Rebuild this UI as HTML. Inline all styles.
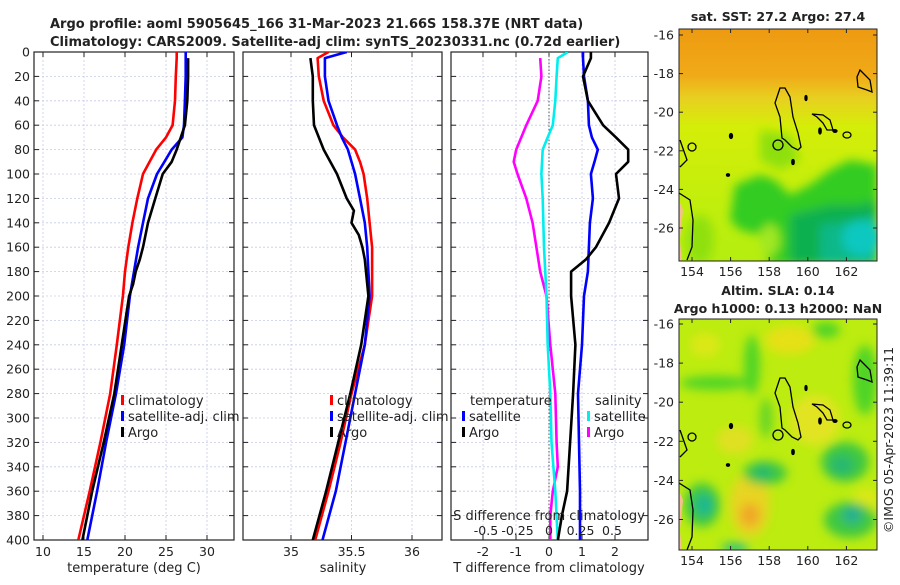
<!DOCTYPE html>
<html><head><meta charset="utf-8"><style>
body{margin:0;background:#fff;width:900px;height:580px;overflow:hidden}
svg text{font-family:"DejaVu Sans","Liberation Sans",sans-serif;fill:#222}
</style></head><body>
<svg id="chart" width="900" height="580" viewBox="0 0 900 580" xmlns="http://www.w3.org/2000/svg">
<defs>
<filter id="blur4" x="-20%" y="-20%" width="140%" height="140%"><feGaussianBlur stdDeviation="5"/></filter>
<clipPath id="clipM1"><rect x="679" y="29" width="198" height="232"/></clipPath>
<clipPath id="clipM2"><rect x="679" y="319" width="198" height="231"/></clipPath>
<clipPath id="clipP1"><rect x="34" y="52" width="200" height="488"/></clipPath>
<clipPath id="clipP2"><rect x="243" y="52" width="199" height="488"/></clipPath>
<clipPath id="clipP3"><rect x="451" y="52" width="197" height="488"/></clipPath>
<linearGradient id="sstGrad" x1="0" y1="0" x2="0" y2="1">
<stop offset="0" stop-color="#ee9a10"/><stop offset="0.2" stop-color="#f0aa18"/><stop offset="0.3" stop-color="#e8d020"/><stop offset="0.42" stop-color="#d4ee08"/><stop offset="1" stop-color="#b4ee10"/>
</linearGradient>
<g id="coast" fill="none" stroke="#000" stroke-width="1.3">
<path d="M780,88 L785,88 L790,97 L793,117 L798,133 L801,147 L798,150 L792,147 L785,140 L782,138 L780,117 L775,103 Z"/>
<circle cx="778" cy="145" r="5"/>
<path d="M812,114 L823,115 L830,120 L833,130 L827,130 L823,123 L817,117 Z"/>
<ellipse cx="847" cy="135" rx="4" ry="3"/>
<path d="M860,70 L870,80 L872,92 L867,90 L858,87 L857,77 Z"/>
<path d="M680,140 L687,160 L680,167"/>
<ellipse cx="692" cy="147" rx="4" ry="4"/>
<path d="M679,193 L690,200 L693,220 L692,247 L687,260"/>
<path d="M679,200 L683,210 L680,240 L682,262 L679,262 Z" fill="#f4c090" stroke="none"/>
<ellipse cx="731" cy="136" rx="1.5" ry="2.5" fill="#000"/><ellipse cx="728" cy="175" rx="1.5" ry="1.2" fill="#000"/>
<ellipse cx="793" cy="162" rx="1.2" ry="2.5" fill="#000"/><ellipse cx="806" cy="98" rx="1" ry="2.5" fill="#000"/>
<ellipse cx="820" cy="131" rx="1.2" ry="3" fill="#000"/><ellipse cx="835" cy="131" rx="2" ry="1.3" fill="#000"/>
</g>
</defs>

<text x="50" y="28" font-size="13" font-weight="bold">Argo profile: aoml 5905645_166 31-Mar-2023 21.66S 158.37E (NRT data)</text>
<text x="50" y="46" font-size="13" font-weight="bold">Climatology: CARS2009. Satellite-adj clim: synTS_20230331.nc (0.72d earlier)</text>

<g id="panels"></g>

<!-- Map 1 -->
<g>
<text x="778" y="21" font-size="12.5" font-weight="bold" text-anchor="middle">sat. SST: 27.2 Argo: 27.4</text>
<g clip-path="url(#clipM1)">
<rect x="679" y="29" width="198" height="232" fill="url(#sstGrad)"/>
<g filter="url(#blur4)">
<path d="M735,185 L760,175 L775,180 L790,195 L810,185 L830,170 L850,160 L877,165 L877,265 L770,265 L760,235 L740,230 L730,220 Z" fill="#30cc20"/>
<path d="M760,130 L790,135 L800,160 L780,170 L760,160 Z" fill="#8ee010"/>
<path d="M790,215 L830,205 L860,205 L877,200 L877,265 L790,265 Z" fill="#10b050"/>
<path d="M820,225 L860,220 L877,215 L877,265 L820,265 Z" fill="#10b888"/>
<ellipse cx="862" cy="238" rx="20" ry="18" fill="#10c8c0"/>
<ellipse cx="770" cy="240" rx="10" ry="16" fill="#a0e820"/>
<ellipse cx="700" cy="240" rx="14" ry="25" fill="#90e010"/>
</g>
<use href="#coast"/>
</g>
<rect x="679" y="29" width="198" height="232" fill="none" stroke="#222" stroke-width="1"/>
<g id="m1ticks"></g>
</g>

<!-- Map 2 -->
<g>
<text x="778" y="295" font-size="12.5" font-weight="bold" text-anchor="middle">Altim. SLA: 0.14</text>
<text x="778" y="313" font-size="12.5" font-weight="bold" text-anchor="middle">Argo h1000: 0.13 h2000: NaN</text>
<g clip-path="url(#clipM2)">
<rect x="679" y="319" width="198" height="231" fill="#bcec10"/>
<g filter="url(#blur4)">
<ellipse cx="705" cy="345" rx="15" ry="12" fill="#dce818"/>
<ellipse cx="790" cy="340" rx="25" ry="14" fill="#e6e018"/>
<ellipse cx="815" cy="420" rx="25" ry="25" fill="#e2e420"/>
<ellipse cx="735" cy="440" rx="18" ry="14" fill="#e0e020"/>
<ellipse cx="750" cy="505" rx="20" ry="32" fill="#e8d420"/>
<ellipse cx="750" cy="515" rx="10" ry="12" fill="#f0a828"/>
<ellipse cx="866" cy="500" rx="12" ry="12" fill="#dce818"/>
<ellipse cx="752" cy="365" rx="8" ry="30" fill="#50d428"/>
<ellipse cx="715" cy="383" rx="35" ry="7" fill="#50d428"/>
<ellipse cx="826" cy="330" rx="14" ry="8" fill="#50d428"/>
<ellipse cx="865" cy="380" rx="12" ry="35" fill="#50d428"/>
<ellipse cx="845" cy="462" rx="24" ry="20" fill="#40c840"/>
<ellipse cx="842" cy="465" rx="12" ry="10" fill="#28b870"/>
<ellipse cx="765" cy="473" rx="22" ry="12" fill="#40c840"/>
<ellipse cx="763" cy="472" rx="9" ry="7" fill="#28b870"/>
<ellipse cx="702" cy="505" rx="18" ry="22" fill="#40c840"/>
<ellipse cx="704" cy="505" rx="9" ry="11" fill="#18b890"/>
<ellipse cx="850" cy="520" rx="26" ry="18" fill="#40c840"/>
<ellipse cx="852" cy="515" rx="10" ry="9" fill="#28b090"/>
<ellipse cx="735" cy="548" rx="14" ry="5" fill="#28c080"/>
<ellipse cx="766" cy="418" rx="6" ry="20" fill="#60d428"/>
</g>
<g transform="translate(0,290)"><use href="#coast"/></g>
</g>
<rect x="679" y="319" width="198" height="231" fill="none" stroke="#222" stroke-width="1"/>
<g id="m2ticks"></g>
</g>
<text transform="translate(893,440) rotate(-90)" font-size="12.5" text-anchor="middle">©IMOS 05-Apr-2023 11:39:11</text>
</svg>

<script>
// ---- data (depth in m) ----
const depths      = [0,5,20,40,60,70,80,90,100,120,140,160,180,200,240,280,320,360,400];
const tempClim    = [26.3,26.3,26.2,26.1,25.8,25.0,23.8,23.0,22.2,21.5,20.9,20.4,20.0,19.75,19.0,18.2,17.0,15.7,14.3];
const tempSat     = [27.4,27.4,27.4,27.3,27.2,27.0,25.7,24.8,23.9,22.8,22.2,21.6,21.1,20.6,19.9,18.9,17.7,16.6,15.4];
const tempArgoD   = [5,20,40,60,70,80,90,100,120,140,160,170,180,190,200,240,280,320,360,400];
const tempArgo    = [27.7,27.7,27.6,27.3,26.8,26.3,25.7,24.6,23.7,22.8,22.2,21.8,21.3,21.0,20.5,19.6,18.7,17.4,16.0,14.8];
const salClim     = [35.31,35.22,35.23,35.27,35.35,35.43,35.53,35.57,35.60,35.63,35.65,35.67,35.67,35.67,35.61,35.50,35.41,35.31,35.20];
const salSat      = [35.46,35.28,35.28,35.31,35.38,35.42,35.47,35.50,35.53,35.57,35.61,35.63,35.64,35.65,35.61,35.53,35.45,35.37,35.26];
const salArgoD    = [5,20,40,60,80,100,120,130,140,150,160,170,180,200,240,280,320,360,400];
const salArgo     = [35.16,35.18,35.18,35.19,35.27,35.38,35.46,35.52,35.50,35.56,35.59,35.61,35.62,35.64,35.58,35.49,35.39,35.29,35.18];
const tDiffSat    = [1.03,1.03,1.06,1.18,1.21,1.3,1.48,1.38,1.27,1.33,1.24,1.21,1.18,1.06,1.0,0.88,0.91,0.94,0.94];
const tDiffArgo   = [1.27,1.27,1.03,1.18,1.64,2.03,2.4,2.4,2.03,2.12,1.82,1.42,1.12,0.67,0.67,0.8,0.73,0.64,0.55,0.39,0.27];
const tDiffArgoD  = [0,5,20,40,60,70,80,90,100,120,140,160,170,180,200,240,280,320,360,380,400];
const sDiffSatD   = [0,5,20,40,60,70,80,100,120,160,200,240,280,320,360,400];
const sDiffSat    = [0.15,0.07,0.06,0.05,0.03,-0.01,-0.05,-0.06,-0.05,-0.04,-0.02,-0.01,0.01,0.02,0.05,0.07];
const sDiffArgoD  = [5,20,40,60,80,90,100,120,140,160,180,200,240,280,320,340,360,380,400];
const sDiffArgo   = [-0.07,-0.06,-0.09,-0.18,-0.26,-0.28,-0.25,-0.18,-0.13,-0.10,-0.07,-0.02,0.01,0.05,0.06,0.07,0.03,0.01,0.01];
const depthTicks  = [0,20,40,60,80,100,120,140,160,180,200,220,240,260,280,300,320,340,360,380,400];
const tempTicks   = [10,15,20,25,30];
const salTicks    = [35,35.5,36];
const tDiffTicks  = [-2,-1,0,1,2];
const sDiffTicks  = [-0.5,-0.25,0,0.25,0.5];
const sDiffLabels = ["-0.5","-0.25","0","0.25","0.5"];
const lonTicks    = [154,156,158,160,162];
const latTicks    = [-16,-18,-20,-22,-24,-26];

// ---- scales ----
const yD   = d => 52 + d*1.22;
const xT   = t => 43 + (t-10)*8.2;
const xS   = s => 291 + (s-35)*121;
const xTd  = v => 549 + v*33;
const xSd  = v => 549 + v*126;
const lonX = l => 692 + (l-154)*19.3;
const latY1 = l => 35 + (-16-l)*19.3;
const latY2 = l => 324 + (-16-l)*19.55;

const NS="http://www.w3.org/2000/svg";
const root=document.getElementById('panels');
function mk(tag, attrs, parent){const e=document.createElementNS(NS,tag);for(const k in attrs)e.setAttribute(k,attrs[k]);(parent||root).appendChild(e);return e;}
function txt(s, attrs, parent){const e=mk('text',attrs,parent);e.textContent=s;return e;}

const panels=[{x0:34,x1:234,name:'temperature-panel'},{x0:243,x1:442,name:'salinity-panel'},{x0:451,x1:648,name:'difference-panel'}];
panels.forEach((p,i)=>{
  const g=mk('g',{});
  
  
  depthTicks.forEach(d=>{
    mk('line',{x1:p.x0,x2:p.x1,y1:yD(d),y2:yD(d),stroke:'#c8cce8','stroke-width':0.8,'stroke-dasharray':'2,2'},g);
    mk('line',{x1:p.x0,x2:p.x0+5,y1:yD(d),y2:yD(d),stroke:'#222'},g);
    mk('line',{x1:p.x1-5,x2:p.x1,y1:yD(d),y2:yD(d),stroke:'#222'},g);
  });
  let ticks=i==0?tempTicks:i==1?salTicks:tDiffTicks, xf=i==0?xT:i==1?xS:xTd;
  ticks.forEach(t=>{
    mk('line',{x1:xf(t),x2:xf(t),y1:52,y2:540,stroke:'#c8cce8','stroke-width':0.8,'stroke-dasharray':'2,2'},g);
    mk('line',{x1:xf(t),x2:xf(t),y1:540,y2:535,stroke:'#222'},g);
    mk('line',{x1:xf(t),x2:xf(t),y1:52,y2:57,stroke:'#222'},g);
    const lab=txt(String(t),{x:xf(t),y:556,'font-size':12.5,'text-anchor':'middle'},g);
    
    
  });
  mk('rect',{x:p.x0,y:52,width:p.x1-p.x0,height:488,fill:'none',stroke:'#222','stroke-width':1.2},g);
});
depthTicks.forEach(d=>{
  const t=txt(String(d),{x:30,y:yD(d)+4.5,'font-size':12.5,'text-anchor':'end'});
  
  
});
[[134,'temperature (deg C)'],[343,'salinity'],[549,'T difference from climatology']].forEach(a=>{
  const t=txt(a[1],{x:a[0],y:572,'font-size':13,'text-anchor':'middle'});
  
  
});
mk('line',{x1:xTd(0),x2:xTd(0),y1:52,y2:540,stroke:'#555','stroke-width':1,'stroke-dasharray':'1.5,2'});

function line(xs, ds, xf, color, name, clip){
  const pts=xs.map((v,k)=>xf(v).toFixed(1)+','+yD(ds[k]).toFixed(1)).join(' ');
  const pl=mk('polyline',{points:pts,fill:'none',stroke:color,'stroke-width':2.6,'stroke-linejoin':'round','clip-path':'url(#'+clip+')'});
  
  
}
line(tempClim,depths,xT,'#ff0000','temp-climatology-line','clipP1');
line(tempSat,depths,xT,'#0000ff','temp-satellite-line','clipP1');
line(tempArgo,tempArgoD,xT,'#000000','temp-argo-line','clipP1');
line(salClim,depths,xS,'#ff0000','sal-climatology-line','clipP2');
line(salSat,depths,xS,'#0000ff','sal-satellite-line','clipP2');
line(salArgo,salArgoD,xS,'#000000','sal-argo-line','clipP2');
line(sDiffArgo,sDiffArgoD,xSd,'#ff00ff','sdiff-argo-line','clipP3');
line(sDiffSat,sDiffSatD,xSd,'#00eeee','sdiff-satellite-line','clipP3');
line(tDiffSat,depths,xTd,'#0000ff','tdiff-satellite-line','clipP3');
line(tDiffArgo,tDiffArgoD,xTd,'#000000','tdiff-argo-line','clipP3');

const st=txt('S difference from climatology',{x:549,y:520,'font-size':13,'text-anchor':'middle'});


sDiffTicks.forEach((v,k)=>{
  const t=txt(sDiffLabels[k],{x:xSd(v),y:535,'font-size':12.5,'text-anchor':'middle'});
  
  
});

function legend(x,y,color,label){
  const g=mk('g',{});
  
  
  mk('rect',{x:x,y:y-10,width:3,height:10,fill:color},g);
  txt(label,{x:x+7,y:y,'font-size':13},g);
}
legend(121,405,'#ff0000','climatology');legend(121,421,'#0000ff','satellite-adj. clim');legend(121,437,'#000','Argo');
legend(330,405,'#ff0000','climatology');legend(330,421,'#0000ff','satellite-adj. clim');legend(330,437,'#000','Argo');
const lt=txt('temperature',{x:470,y:405,'font-size':13});
legend(462,421,'#0000ff','satellite');legend(462,437,'#000','Argo');
const ls=txt('salinity',{x:595,y:405,'font-size':13});
legend(587,421,'#00eeee','satellite');legend(587,437,'#ff00ff','Argo');

function mapTicks(gid, yTop, yBot, latY){
  const g=document.getElementById(gid);
  lonTicks.forEach(l=>{
    mk('line',{x1:lonX(l),x2:lonX(l),y1:yBot,y2:yBot-4,stroke:'#222'},g);
    mk('line',{x1:lonX(l),x2:lonX(l),y1:yTop,y2:yTop+4,stroke:'#222'},g);
    const t=txt(String(l),{x:lonX(l),y:yBot+15,'font-size':12.5,'text-anchor':'middle'},g);
    
    
  });
  latTicks.forEach(l=>{
    mk('line',{x1:679,x2:683,y1:latY(l),y2:latY(l),stroke:'#222'},g);
    mk('line',{x1:873,x2:877,y1:latY(l),y2:latY(l),stroke:'#222'},g);
    const t=txt(String(l),{x:674,y:latY(l)+4.5,'font-size':12.5,'text-anchor':'end'},g);
    
    
  });
}
mapTicks('m1ticks',29,261,latY1);
mapTicks('m2ticks',319,550,latY2);
</script>
</body></html>
